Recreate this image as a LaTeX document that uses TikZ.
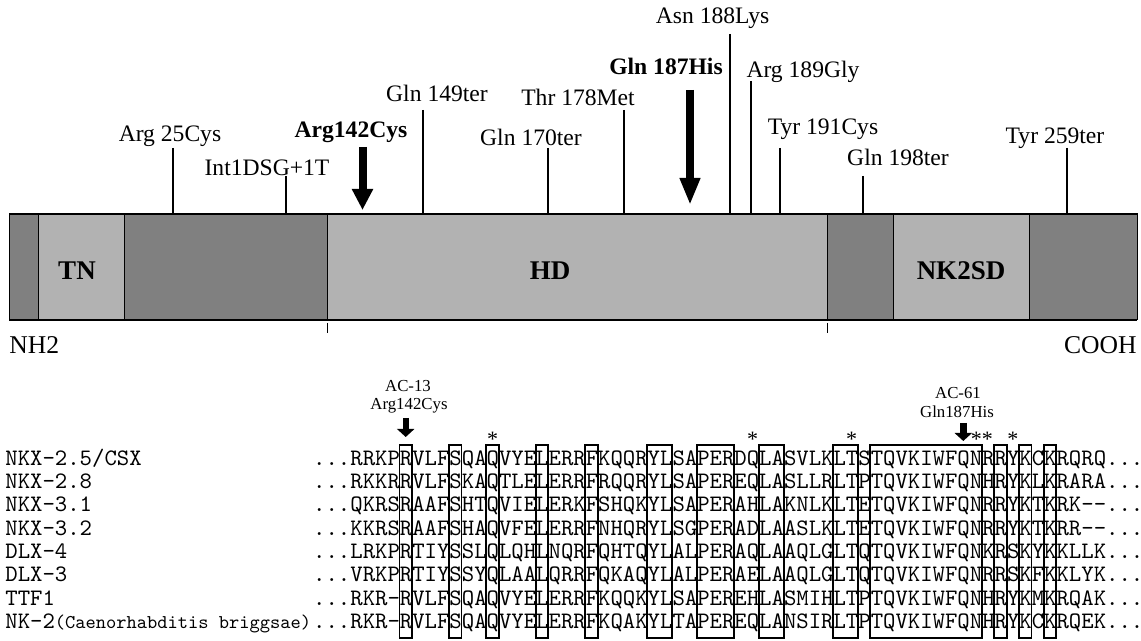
\documentclass[tikz,border=0pt]{standalone}
\usepackage{fontspec}
\setmainfont{Liberation Serif}
\newfontfamily\seqfont{lmmono10-regular.otf}
\usetikzlibrary{arrows.meta}

\definecolor{segdark}{gray}{0.5}
\definecolor{seglight}{gray}{0.7}

\begin{document}
\begin{tikzpicture}[
  x=0.5pt, y=-0.5pt,
  lbl/.style={font=\fontsize{11.8}{14}\selectfont, inner sep=0pt, anchor=base},
  lblb/.style={lbl, font=\fontsize{11.8}{14}\selectfont\bfseries},
  dom/.style={font=\fontsize{13.5}{15}\selectfont\bfseries, inner sep=0pt},
  term/.style={font=\fontsize{12.8}{14}\selectfont, inner sep=0pt},
  seg/.style={draw=black, line width=0.5pt},
  mline/.style={line width=1pt},
  bigarrow/.style={line width=4pt, -{Triangle[length=10.5pt,width=10pt]}},
  longarrow/.style={line width=4.2pt, -{Triangle[length=13.5pt,width=9.5pt]}},
  smallarrow/.style={line width=3.2pt, -{Triangle[length=4pt,width=8.5pt]}},
  aclbl/.style={font=\fontsize{8.4}{10}\selectfont, inner sep=0pt, anchor=base},
  asterisk/.style={font=\fontsize{11}{12}\selectfont, inner sep=0pt, anchor=base},
  rowname/.style={font=\seqfont\fontsize{11.8}{13}\selectfont, inner sep=0pt, anchor=base west},
  seqrow/.style={font=\seqfont\fontsize{11.8}{13}\selectfont, inner sep=0pt, anchor=base west},
  colbox/.style={draw=black, line width=0.9pt}
]
\useasboundingbox (0,0) rectangle (1141,641);

% protein bar
\draw[seg, fill=segdark] (9,214) rectangle (38,320);
\draw[seg, fill=seglight] (38,214) rectangle (124,320);
\draw[seg, fill=segdark] (124,214) rectangle (327,320);
\draw[seg, fill=seglight] (327,214) rectangle (827,320);
\draw[seg, fill=segdark] (827,214) rectangle (893,320);
\draw[seg, fill=seglight] (893,214) rectangle (1029,320);
\draw[seg, fill=segdark] (1029,214) rectangle (1137,320);
\draw[line width=1.1pt] (9,214) -- (1137,214);
\draw[line width=1.1pt] (9,320) -- (1137,320);
\coordinate (bartop) at (0,214);

\node[dom] (tn) at (77,271) {TN};
\node[dom] (hd) at (550,271) {HD};
\node[dom] (nk2sd) at (961,271) {NK2SD};

\draw[line width=0.5pt] (327,323) -- (327,333);
\draw[line width=0.5pt] (827,323) -- (827,333);

\node[term, anchor=west] (nh2) at (9,345) {NH2};
\node[term, anchor=east] (cooh) at (1137,345) {COOH};

% mutations
\node[lbl] (m25) at (170,141.7) {Arg 25Cys};
\node[lbl] (mint) at (267,175.7) {Int1DSG+1T};
\node[lblb] (m142) at (351,137.3) {Arg142Cys};
\node[lbl] (m149) at (437,101.7) {Gln 149ter};
\node[lbl] (m170) at (531,145.7) {Gln 170ter};
\node[lbl] (m178) at (578,106) {Thr 178Met};
\node[lblb] (m187) at (666,75) {Gln 187His};
\node[lbl] (m188) at (712.6,24) {Asn 188Lys};
\node[lbl] (m189) at (803,77.3) {Arg 189Gly};
\node[lbl] (m191) at (823,135) {Tyr 191Cys};
\node[lbl] (m198) at (898,165.7) {Gln 198ter};
\node[lbl] (m259) at (1055,143.3) {Tyr 259ter};

\coordinate (t25) at (172.5,148);
\coordinate (tint) at (286,176);
\coordinate (t142) at (362.5,147);
\coordinate (t149) at (422.5,110);
\coordinate (t170) at (548,148);
\coordinate (t178) at (624,110);
\coordinate (t187) at (690,90);
\coordinate (t188) at (729.5,34);
\coordinate (t189) at (750.7,81);
\coordinate (t191) at (780,148);
\coordinate (t198) at (862.6,176);
\coordinate (t259) at (1067,148);

\draw[mline] (t25) -- (t25 |- bartop);
\draw[mline] (tint) -- (tint |- bartop);
\draw[mline] (t149) -- (t149 |- bartop);
\draw[mline] (t170) -- (t170 |- bartop);
\draw[mline] (t178) -- (t178 |- bartop);
\draw[mline] (t188) -- (t188 |- bartop);
\draw[mline] (t189) -- (t189 |- bartop);
\draw[mline] (t191) -- (t191 |- bartop);
\draw[mline] (t198) -- (t198 |- bartop);
\draw[mline] (t259) -- (t259 |- bartop);
\draw[bigarrow] (t142) -- ++(0,63);
\draw[longarrow] (t187) -- ++(0,115);

% alignment
\node[aclbl] (ac13) at (408,391.5) {AC-13};
\node[aclbl] (ac13m) at (409,409.5) {Arg142Cys};
\node[aclbl] (ac61) at (958,398.5) {AC-61};
\node[aclbl] (ac61m) at (957,417.5) {Gln187His};
\coordinate (a13) at (405.7,418);
\coordinate (a61) at (963.3,423);
\draw[smallarrow] (a13) -- ++(0,19);
\draw[smallarrow] (a61) -- ++(0,18);

\node[asterisk] (s1) at (492.5,447) {*};
\node[asterisk] (s2) at (752.6,447) {*};
\node[asterisk] (s3) at (851.6,447) {*};
\node[asterisk] (s4) at (981.8,447) {**};
\node[asterisk] (s6) at (1012.8,447) {*};

\node[rowname] (n1) at (5,465.4) {NKX-2.5/CSX};
\node[rowname] (n2) at (5,488.7) {NKX-2.8};
\node[rowname] (n3) at (5,512) {NKX-3.1};
\node[rowname] (n4) at (5,535.3) {NKX-3.2};
\node[rowname] (n5) at (5,558.6) {DLX-4};
\node[rowname] (n6) at (5,581.9) {DLX-3};
\node[rowname] (n7) at (5,605.2) {TTF1};
\node[rowname] (n8) at (5,628.5) {NK-2{\fontsize{9.76}{11}\selectfont(Caenorhabditis briggsae)}};

\node[seqrow] (q1) at (312.8,465.4) {...RRKPRVLFSQAQVYELERRFKQQRYLSAPERDQLASVLKLTSTQVKIWFQNRRYKCKRQRQ...};
\node[seqrow] (q2) at (312.8,488.7) {...RKKRRVLFSKAQTLELERRFRQQRYLSAPEREQLASLLRLTPTQVKIWFQNHRYKLKRARA...};
\node[seqrow] (q3) at (312.8,512) {...QKRSRAAFSHTQVIELERKFSHQKYLSAPERAHLAKNLKLTETQVKIWFQNRRYKTKRK--...};
\node[seqrow] (q4) at (312.8,535.3) {...KKRSRAAFSHAQVFELERRFNHQRYLSGPERADLAASLKLTETQVKIWFQNRRYKTKRR--...};
\node[seqrow] (q5) at (312.8,558.6) {...LRKPRTIYSSLQLQHLNQRFQHTQYLALPERAQLAAQLGLTQTQVKIWFQNKRSKYKKLLK...};
\node[seqrow] (q6) at (312.8,581.9) {...VRKPRTIYSSYQLAALQRRFQKAQYLALPERAELAAQLGLTQTQVKIWFQNRRSKFKKLYK...};
\node[seqrow] (q7) at (312.8,605.2) {...RKR-RVLFSQAQVYELERRFKQQKYLSAPEREHLASMIHLTPTQVKIWFQNHRYKMKRQAK...};
\node[seqrow] (q8) at (312.8,628.5) {...RKR-RVLFSQAQVYELERRFKQAKYLTAPEREQLANSIRLTPTQVKIWFQNHRYKCKRQEK...};

% conserved columns
\draw[colbox] (399.53,445) rectangle (411.92,638);
\draw[colbox] (449.09,445) rectangle (461.48,638);
\draw[colbox] (486.26,445) rectangle (498.65,638);
\draw[colbox] (535.82,445) rectangle (548.21,638);
\draw[colbox] (585.38,445) rectangle (597.77,638);
\draw[colbox] (647.33,445) rectangle (672.11,638);
\draw[colbox] (696.89,445) rectangle (734.06,638);
\draw[colbox] (758.84,445) rectangle (783.62,638);
\draw[colbox] (833.18,445) rectangle (857.96,638);
\draw[colbox] (870.35,445) rectangle (981.86,638);
\draw[colbox] (994.25,445) rectangle (1006.64,638);
\draw[colbox] (1019.03,445) rectangle (1031.42,638);
\draw[colbox] (1043.81,445) rectangle (1056.2,638);

\end{tikzpicture}
\end{document}
